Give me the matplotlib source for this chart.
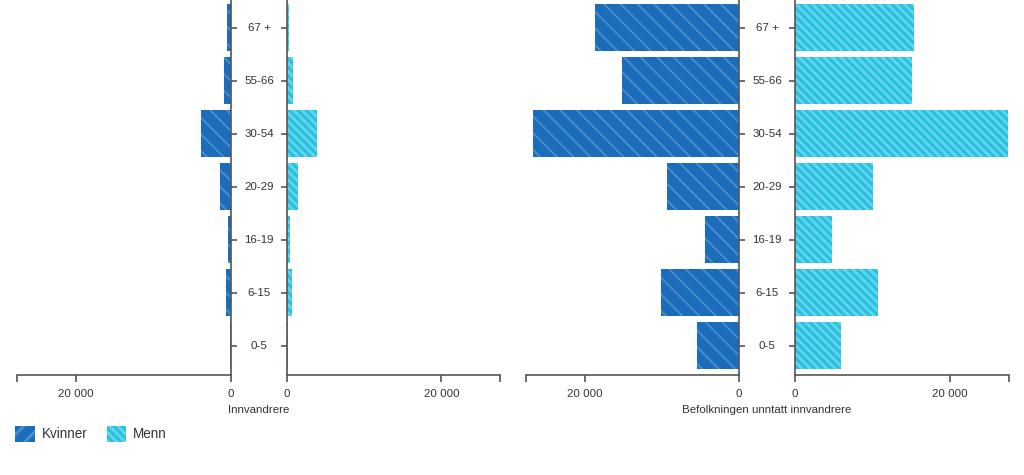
import matplotlib
matplotlib.use("Agg")
import matplotlib.pyplot as plt
import matplotlib.transforms as mtransforms
from matplotlib.patches import Patch

plt.rcParams['font.family'] = ['Liberation Sans', 'DejaVu Sans']

# ---- data ----
age_groups = ["67 +", "55-66", "30-54", "20-29", "16-19", "6-15", "0-5"]
innv_kvinner = [560, 860, 3870, 1420, 430, 690, 170]
innv_menn = [300, 770, 3870, 1460, 430, 650, 170]
bef_kvinner = [18710, 15100, 26750, 9290, 4390, 10060, 5420]
bef_menn = [15290, 15030, 27420, 10000, 4710, 10650, 5870]
panel_titles = ["Innvandrere", "Befolkningen unntatt innvandrere"]
series_names = ["Kvinner", "Menn"]
xmax = 27600
tick_values = [0, 20000]
tick_labels = ["0", "20 000"]

# ---- style ----
W, H = 1024, 475
c_kv = "#1b6dbb"
c_me = "#25c2e4"
axis_col = "#555555"
text_col = "#333333"
hatch_kv = (1, 1, 1, 0.22)
hatch_me = (1, 1, 1, 0.30)
hatch_kv_pat = '\\\\'
hatch_me_pat = '\\\\\\\\'

fig = plt.figure(figsize=(W / 100, H / 100), dpi=100)

def fx(px):
    return px / W

top_px, bot_px = 0, 375
ax_b = 1 - bot_px / H
ax_h = (bot_px - top_px) / H

panels = [
    (17, 231, 287, 500, innv_kvinner, innv_menn, panel_titles[0]),
    (526, 739, 795, 1009, bef_kvinner, bef_menn, panel_titles[1]),
]

ypos = list(range(len(age_groups)))

for (kl, kr, ml, mr, kv, me, title) in panels:
    axk = fig.add_axes([fx(kl), ax_b, fx(kr - kl), ax_h])
    axm = fig.add_axes([fx(ml), ax_b, fx(mr - ml), ax_h])
    plt.rcParams['hatch.linewidth'] = 1.3
    axk.barh(ypos, kv, height=0.88, color=c_kv, edgecolor=hatch_kv,
             linewidth=0, hatch=hatch_kv_pat)
    plt.rcParams['hatch.linewidth'] = 2.0
    axm.barh(ypos, me, height=0.88, color=c_me, edgecolor=hatch_me,
             linewidth=0, hatch=hatch_me_pat)
    for ax, side in ((axk, 'right'), (axm, 'left')):
        ax.set_xlim(0, xmax)
        ax.set_ylim(6.55, -0.52)
        for s in ['top', 'left', 'right', 'bottom']:
            ax.spines[s].set_visible(False)
        ax.spines['bottom'].set_visible(True)
        ax.spines[side].set_visible(True)
        ax.spines['bottom'].set_color(axis_col)
        ax.spines[side].set_color(axis_col)
        ax.spines['bottom'].set_linewidth(1.2)
        ax.spines[side].set_linewidth(1.2)
        ax.set_xticks(tick_values + [xmax])
        ax.set_xticklabels(tick_labels + [""])
        ax.tick_params(axis='x', length=5, width=1.2, color=axis_col,
                       labelsize=8.25, labelcolor=text_col, pad=5)
        ax.set_yticks(ypos)
        ax.set_yticklabels([])
        ax.tick_params(axis='y', length=4, width=1.2, color=axis_col,
                       left=(side == 'left'), right=(side == 'right'))
        ax.set_facecolor('none')
    axk.set_xlim(xmax, 0)
    # category labels in the centre column
    trans = mtransforms.blended_transform_factory(fig.transFigure, axk.transData)
    cx = fx((kr + ml) / 2)
    for y, lab in zip(ypos, age_groups):
        axk.text(cx, y, lab, transform=trans, ha='center', va='center',
                 fontsize=8.25, color=text_col, clip_on=False)
    fig.text(cx, 1 - 410 / H, title, ha='center', va='center',
             fontsize=8.25, color=text_col)

plt.rcParams['hatch.linewidth'] = 1.3
h_kv = Patch(facecolor=c_kv, edgecolor=hatch_kv, linewidth=0, hatch='//')
plt.rcParams['hatch.linewidth'] = 2.0
h_me = Patch(facecolor=c_me, edgecolor=hatch_me, linewidth=0, hatch=hatch_me_pat)
fig.legend([h_kv, h_me], series_names, loc='center left',
           bbox_to_anchor=(fx(10), 1 - 434 / H), ncol=2, frameon=False,
           fontsize=9.75, handlelength=1.45, handleheight=1.45,
           handletextpad=0.5, columnspacing=1.4, labelcolor=text_col,
           borderaxespad=0)

fig.savefig("out.png", dpi=100)
